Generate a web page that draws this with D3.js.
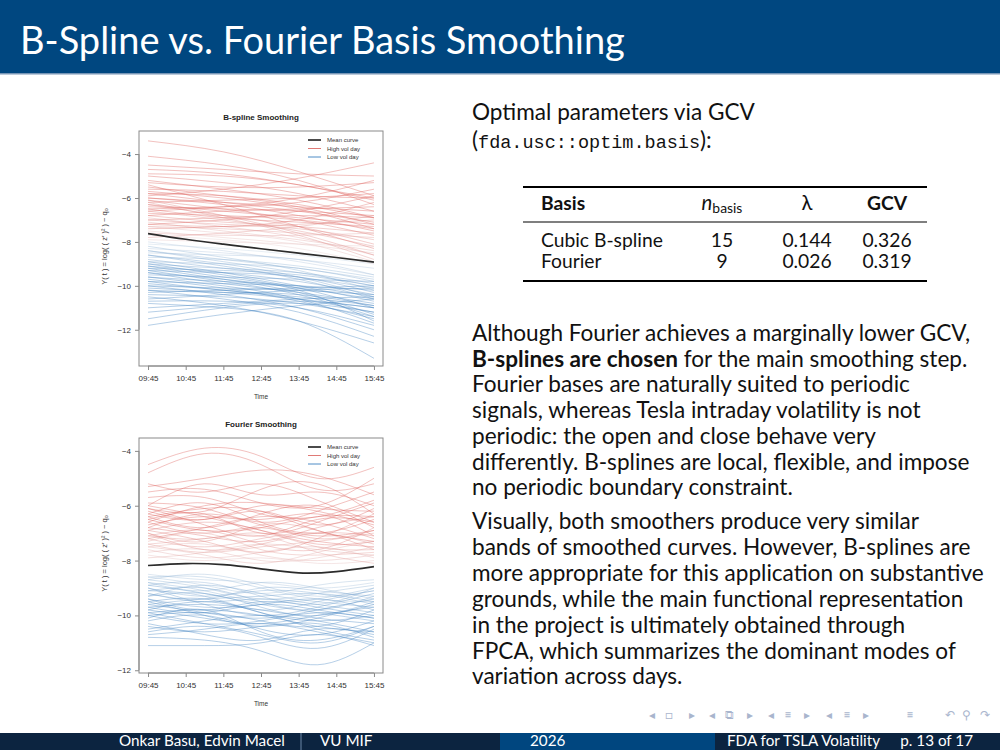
<!DOCTYPE html>
<html lang="en">
<head>
<meta charset="UTF-8">
<title>B-Spline vs. Fourier Basis Smoothing</title>
<script src="https://cdn.jsdelivr.net/npm/d3@7"></script>
<style>
  body { margin: 0; background: #fff; }
  svg text { font-family: Lato, "Open Sans", sans-serif; }
  .plot text { font-family: "Liberation Sans", Arial, sans-serif; }
</style>
</head>
<body>
<script>
// ---- data ----
let timeLabels = ["09:45", "10:45", "11:45", "12:45", "13:45", "14:45", "15:45"];
let tickMinutes = [585, 645, 705, 765, 825, 885, 945];
let yTicks = [-4, -6, -8, -10, -12];

// B-spline curves, values at 09:45, 11:45, 13:45, 15:45
let bsKnots = [585, 705, 825, 945];
let bsMean = [-7.62, -7.88, -8.10, -8.31, -8.51, -8.71, -8.92];
let bsHigh = [
  [-3.4,-3.9,-4.8,-5.9], [-4.1,-4.5,-5.2,-6.3], [-4.5,-4.7,-4.9,-5.0], [-4.9,-5.0,-5.4,-6.1],
  [-5.0,-5.3,-5.8,-6.6], [-5.2,-5.6,-6.1,-6.9], [-5.3,-5.5,-5.5,-5.3], [-5.5,-5.9,-6.4,-7.2],
  [-5.6,-5.7,-5.9,-6.0], [-5.8,-6.2,-6.6,-7.1], [-5.8,-5.9,-6.3,-6.9], [-5.9,-5.6,-5.1,-4.4],
  [-6.0,-6.3,-6.8,-7.5], [-6.0,-6.2,-6.4,-6.6], [-6.1,-6.5,-7.0,-7.7], [-6.2,-6.1,-6.0,-5.8],
  [-6.3,-6.6,-6.9,-7.2], [-6.3,-6.8,-7.3,-8.1], [-6.4,-6.5,-6.6,-6.8], [-6.5,-6.9,-7.1,-7.3],
  [-6.5,-6.4,-6.2,-5.6], [-6.6,-7.0,-7.5,-8.2], [-6.7,-6.8,-7.0,-7.4], [-6.8,-7.1,-7.3,-7.6],
  [-6.8,-6.6,-6.5,-6.4], [-6.9,-7.3,-7.8,-8.6], [-7.0,-7.2,-7.4,-7.9], [-7.0,-6.9,-6.8,-6.9],
  [-7.1,-7.5,-7.9,-8.4], [-7.2,-7.3,-7.2,-7.0], [-7.3,-7.6,-8.0,-8.9], [-7.3,-7.4,-7.6,-7.8],
  [-7.4,-7.3,-7.0,-6.2], [-7.5,-7.8,-8.1,-8.5], [-7.6,-7.7,-7.7,-7.6], [-7.7,-7.9,-8.3,-9.0],
  [-7.8,-7.6,-7.3,-6.8], [-7.9,-8.0,-8.1,-8.2], [-6.1,-6.8,-7.6,-8.6], [-5.4,-6.3,-7.3,-8.3],
  [-4.7,-4.9,-5.4,-6.0], [-6.6,-6.4,-6.0,-5.2], [-6.2,-6.9,-7.7,-8.8], [-7.2,-7.0,-6.6,-5.9],
  [-5.7,-6.0,-6.5,-7.4]
];
let bsLow = [
  [-8.0,-8.4,-8.9,-9.5], [-8.1,-8.3,-8.6,-9.0], [-8.2,-8.7,-9.3,-10.2], [-8.3,-8.5,-8.8,-9.2],
  [-8.4,-8.9,-9.4,-10.0], [-8.5,-8.6,-8.8,-9.5], [-8.6,-9.1,-9.7,-10.6], [-8.7,-8.8,-9.1,-9.6],
  [-8.8,-9.2,-9.6,-10.1], [-8.9,-9.0,-9.2,-9.8], [-9.0,-9.5,-10.1,-11.0], [-9.0,-9.2,-9.4,-9.9],
  [-9.1,-9.4,-9.8,-10.4], [-9.2,-9.3,-9.5,-10.0], [-9.3,-9.8,-10.4,-11.4], [-9.3,-9.4,-9.6,-10.3],
  [-9.4,-9.7,-10.1,-10.6], [-9.5,-9.6,-9.7,-9.8], [-9.6,-10.0,-10.6,-11.7], [-9.6,-9.8,-10.0,-10.5],
  [-9.7,-10.1,-10.7,-11.5], [-9.8,-9.9,-10.0,-10.2], [-9.9,-10.2,-10.6,-11.2], [-10.0,-10.4,-11.0,-12.0],
  [-10.0,-10.1,-10.2,-10.4], [-10.1,-10.3,-10.6,-11.0], [-10.2,-10.6,-11.2,-12.3], [-10.3,-10.2,-10.1,-10.0],
  [-10.4,-10.5,-10.8,-11.4], [-10.5,-10.9,-11.6,-12.6], [-10.6,-10.4,-10.2,-10.1], [-10.7,-10.7,-11.0,-11.8],
  [-10.8,-11.0,-11.6,-13.3], [-11.0,-10.8,-10.6,-10.5], [-11.2,-10.9,-10.7,-11.0], [-11.5,-11.0,-10.8,-11.2],
  [-11.8,-11.3,-10.9,-10.6], [-9.2,-9.7,-10.3,-11.3], [-8.6,-9.0,-9.6,-10.5], [-9.8,-10.2,-10.5,-10.9],
  [-8.9,-9.4,-10.0,-10.7], [-10.2,-10.3,-10.4,-10.9], [-9.4,-9.9,-10.3,-10.8], [-8.4,-8.8,-9.2,-9.7],
  [-9.1,-9.6,-10.2,-11.6]
];

// Fourier curves, values at 09:45, 11:15, 12:45, 14:15, 15:45
let fsKnots = [585, 675, 765, 855, 945];
let fsMean = [-8.18, -8.11, -8.15, -8.30, -8.45, -8.40, -8.22];
let fsHigh = [
  [-4.5,-3.9,-4.2,-5.0,-4.6], [-4.8,-4.1,-4.5,-5.4,-5.2], [-5.3,-5.0,-4.7,-4.9,-5.6], [-5.5,-5.4,-5.9,-6.0,-5.0],
  [-6.0,-5.2,-5.6,-5.5,-6.0], [-6.1,-6.2,-5.4,-5.2,-6.3], [-6.2,-6.5,-6.2,-6.7,-6.1], [-6.3,-5.9,-6.6,-7.0,-6.5],
  [-6.4,-6.8,-6.3,-6.0,-6.8], [-6.5,-6.3,-7.0,-6.6,-5.9], [-6.6,-7.0,-6.8,-7.2,-6.9], [-6.7,-6.4,-6.5,-6.3,-7.1],
  [-6.8,-7.1,-7.3,-6.8,-6.4], [-6.9,-6.6,-6.9,-7.4,-7.3], [-7.0,-7.3,-6.7,-6.9,-7.6], [-7.1,-6.9,-7.4,-7.6,-6.8],
  [-7.2,-7.5,-7.2,-7.0,-7.4], [-7.3,-7.0,-7.6,-7.8,-7.7], [-7.4,-7.7,-7.5,-7.3,-7.0], [-7.5,-7.4,-7.8,-8.0,-7.8],
  [-7.6,-7.9,-7.7,-7.5,-7.9], [-7.7,-7.6,-8.0,-7.9,-7.5], [-7.8,-8.0,-7.9,-8.1,-8.0], [-6.1,-6.7,-7.1,-6.5,-6.6],
  [-6.4,-6.1,-6.2,-6.9,-7.3], [-7.2,-6.8,-6.4,-6.6,-7.2], [-6.9,-7.3,-7.7,-7.2,-6.3], [-5.7,-5.7,-6.3,-6.4,-5.8],
  [-5.2,-5.5,-5.2,-5.8,-6.6], [-6.6,-6.0,-5.9,-6.2,-6.7], [-7.4,-7.2,-7.1,-7.7,-8.1], [-7.0,-7.6,-7.4,-7.0,-7.1],
  [-6.0,-6.4,-6.9,-7.3,-7.5], [-7.9,-7.7,-7.4,-7.6,-7.8], [-6.3,-6.5,-6.0,-6.1,-6.2], [-5.9,-6.1,-6.6,-6.2,-5.5],
  [-7.1,-7.2,-7.0,-7.5,-7.6], [-6.8,-6.3,-6.7,-7.1,-6.9], [-7.5,-7.8,-8.1,-7.7,-7.3], [-6.5,-6.9,-6.8,-6.4,-6.4]
];
let fsLow = [
  [-8.5,-8.7,-8.8,-9.0,-8.8], [-8.6,-8.9,-9.2,-8.9,-8.7], [-8.7,-8.5,-8.9,-9.3,-9.1], [-8.8,-9.1,-8.8,-9.0,-9.4],
  [-8.9,-8.8,-9.3,-9.6,-9.0], [-9.0,-9.3,-9.1,-9.2,-9.6], [-9.1,-9.0,-9.5,-9.8,-9.3], [-9.2,-9.5,-9.4,-9.6,-9.9],
  [-9.3,-9.2,-9.7,-10.0,-9.5], [-9.4,-9.7,-9.6,-9.4,-9.8], [-9.5,-9.4,-9.9,-10.2,-10.0], [-9.6,-9.9,-10.1,-9.8,-9.4],
  [-9.7,-9.6,-9.8,-10.1,-10.3], [-9.8,-10.1,-10.3,-10.0,-9.7], [-9.9,-9.8,-10.0,-10.4,-10.6], [-10.0,-10.3,-10.2,-9.9,-10.1],
  [-10.2,-10.0,-10.5,-10.7,-10.2], [-10.4,-10.6,-10.4,-10.3,-10.8], [-10.6,-10.4,-10.8,-11.2,-10.5], [-10.8,-10.9,-11.3,-11.8,-11.0],
  [-11.1,-11.1,-11.0,-10.7,-11.1], [-9.0,-9.6,-10.0,-9.7,-9.2], [-9.3,-8.9,-9.2,-9.5,-9.7], [-8.9,-9.2,-9.6,-9.9,-10.2],
  [-9.6,-9.4,-9.3,-9.2,-9.5], [-10.1,-9.8,-10.6,-10.9,-10.4], [-9.4,-9.8,-9.5,-9.7,-10.0], [-10.3,-10.7,-10.9,-10.5,-10.7],
  [-8.7,-9.0,-9.4,-9.2,-8.9], [-9.8,-9.5,-9.9,-10.5,-10.9], [-9.2,-9.4,-9.0,-9.1,-9.3], [-10.5,-10.2,-10.0,-10.2,-10.6],
  [-9.5,-10.0,-10.4,-10.1,-9.6], [-8.6,-8.6,-9.0,-9.4,-9.5], [-9.9,-10.3,-10.7,-11.0,-10.4], [-9.1,-9.3,-9.8,-9.5,-9.1],
  [-10.7,-10.5,-10.3,-10.6,-11.0], [-9.7,-9.9,-9.6,-9.8,-10.1], [-8.8,-9.1,-9.5,-9.4,-9.0], [-10.0,-9.9,-10.2,-10.4,-9.8]
];

let legendLabels = ["Mean curve", "High vol day", "Low vol day"];

let tableBasis = ["Cubic B-spline", "Fourier"];
let tableNBasis = ["15", "9"];
let tableLambda = ["0.144", "0.026"];
let tableGCV = ["0.326", "0.319"];

let para1 = [
  "Although Fourier achieves a marginally lower GCV,",
  "**B-splines are chosen** for the main smoothing step.",
  "Fourier bases are naturally suited to periodic",
  "signals, whereas Tesla intraday volatility is not",
  "periodic: the open and close behave very",
  "differently. B-splines are local, flexible, and impose",
  "no periodic boundary constraint."
];
let para2 = [
  "Visually, both smoothers produce very similar",
  "bands of smoothed curves. However, B-splines are",
  "more appropriate for this application on substantive",
  "grounds, while the main functional representation",
  "in the project is ultimately obtained through",
  "FPCA, which summarizes the dominant modes of",
  "variation across days."
];

// ---- slide frame ----
let W = 1000, H = 750;
let svg = d3.select("body").append("svg")
  .attr("width", W).attr("height", H);

svg.append("rect").attr("x", 0).attr("y", 0).attr("width", W).attr("height", 73)
  .attr("fill", "#004780");
svg.append("rect").attr("x", 0).attr("y", 73).attr("width", W).attr("height", 1.5)
  .attr("fill", "#7896b6");

// fit text to a measured width
function fitText(sel, target) {
  let w = sel.node().getComputedTextLength();
  let fs = parseFloat(sel.attr("font-size"));
  sel.attr("font-size", fs * target / w);
  return fs * target / w;
}

let title = svg.append("text")
  .text("B-Spline vs. Fourier Basis Smoothing")
  .attr("x", 20).attr("y", 54)
  .attr("font-size", 34).attr("fill", "#fff");
fitText(title, 605);

// ---- plot panels ----
let x = d3.scaleLinear().domain([570.6, 959.4]).range([139, 383]);

function panel(cfg) {
  let g = svg.append("g").attr("class", "plot");
  let y = d3.scaleLinear().domain(cfg.ylim).range([cfg.top, cfg.bottom]);
  let clipId = "clip" + cfg.top;
  g.append("clipPath").attr("id", clipId).append("rect")
    .attr("x", 139).attr("y", cfg.top).attr("width", 244).attr("height", cfg.bottom - cfg.top);

  let meanAvg = d3.mean(cfg.mean);
  let redScale = d3.interpolateRgb("#e6d4d4", "#dc5a55");
  let blueScale = d3.interpolateRgb("#d4dde6", "#3d80c0");

  let line = d3.line()
    .x((d, i) => x(cfg.knots[i]))
    .y(d => y(d))
    .curve(d3.curveNatural);

  let curves = g.append("g").attr("clip-path", "url(#" + clipId + ")");
  function drawSet(data, scale) {
    curves.selectAll(null).data(data).enter().append("path")
      .attr("d", line)
      .attr("fill", "none")
      .attr("stroke", d => scale(Math.min(Math.abs(d3.mean(d) - meanAvg) / 1.6, 1)))
      .attr("stroke-opacity", 0.42)
      .attr("stroke-width", 0.9);
  }
  drawSet(cfg.low, blueScale);
  drawSet(cfg.high, redScale);

  let meanLine = d3.line()
    .x((d, i) => x(tickMinutes[i]))
    .y(d => y(d))
    .curve(d3.curveNatural);
  curves.append("path")
    .attr("d", meanLine(cfg.mean))
    .attr("fill", "none")
    .attr("stroke", "#2b2b2b")
    .attr("stroke-width", 1.7);

  // box
  g.append("rect")
    .attr("x", 139).attr("y", cfg.top).attr("width", 244).attr("height", cfg.bottom - cfg.top)
    .attr("fill", "none").attr("stroke", "#8a8a8a").attr("stroke-width", 1);

  let xAxis = d3.axisBottom(x).tickValues(tickMinutes)
    .tickFormat((d, i) => timeLabels[i]).tickSize(4).tickPadding(5);
  let gx = g.append("g").attr("transform", "translate(0," + cfg.bottom + ")").call(xAxis);
  gx.select(".domain").attr("d", "M" + x(585) + ",0H" + x(945)).attr("stroke", "#8a8a8a");
  gx.selectAll(".tick line").attr("stroke", "#8a8a8a");
  gx.selectAll(".tick text").attr("font-size", 8).attr("fill", "#333")
    .attr("font-family", "Liberation Sans, Arial, sans-serif");

  let yAxis = d3.axisLeft(y).tickValues(yTicks).tickSize(4).tickPadding(4);
  let gy = g.append("g").attr("transform", "translate(139,0)").call(yAxis);
  gy.select(".domain").attr("d", "M0," + y(-4) + "V" + y(-12)).attr("stroke", "#8a8a8a");
  gy.selectAll(".tick line").attr("stroke", "#8a8a8a");
  gy.selectAll(".tick text").attr("font-size", 8).attr("fill", "#333")
    .attr("font-family", "Liberation Sans, Arial, sans-serif");

  g.append("text").text(cfg.title)
    .attr("x", 261).attr("y", cfg.top - 11)
    .attr("text-anchor", "middle").attr("font-size", 8).attr("font-weight", "bold").attr("fill", "#222");

  g.append("text").text("Time")
    .attr("x", 261).attr("y", cfg.bottom + 33)
    .attr("text-anchor", "middle").attr("font-size", 6.5).attr("fill", "#333");

  let cy = (cfg.top + cfg.bottom) / 2 - 2;
  g.append("text").text("Y( t ) = log( ( z′ )² ) − q₀")
    .attr("transform", "translate(107," + cy + ") rotate(-90)")
    .attr("font-family", "DejaVu Sans, sans-serif")
    .attr("text-anchor", "middle").attr("font-size", 7.5).attr("fill", "#333");

  // legend
  let legColors = ["#2b2b2b", "#e07a76", "#4f8cc6"];
  let legW = [1.7, 1, 1];
  legendLabels.forEach((lab, i) => {
    let ly = cfg.top + 9 + i * 8.5;
    g.append("line").attr("x1", 308).attr("x2", 321).attr("y1", ly).attr("y2", ly)
      .attr("stroke", legColors[i]).attr("stroke-width", legW[i]);
    g.append("text").text(lab).attr("x", 327).attr("y", ly + 2)
      .attr("font-size", 6).attr("fill", "#333");
  });
}

panel({ title: "B-spline Smoothing", top: 131, bottom: 366, ylim: [-2.95, -13.65],
        knots: bsKnots, high: bsHigh, low: bsLow, mean: bsMean });
panel({ title: "Fourier Smoothing", top: 438, bottom: 673, ylim: [-3.53, -12.1],
        knots: fsKnots, high: fsHigh, low: fsLow, mean: fsMean });

// ---- right column text ----
let textColor = "#111";
let intro = svg.append("text").text("Optimal parameters via GCV")
  .attr("x", 472).attr("y", 120).attr("font-size", 20).attr("fill", textColor);
let bodySize = fitText(intro, 283);

let intro2 = svg.append("text").attr("x", 472).attr("y", 148)
  .attr("font-size", bodySize).attr("fill", textColor);
intro2.append("tspan").text("(");
intro2.append("tspan").text("fda.usc::optim.basis")
  .attr("font-family", "Liberation Mono, DejaVu Sans Mono, monospace").attr("font-size", 18.5);
intro2.append("tspan").text("):");

// table
let tx = [541, 722, 807, 887];
svg.append("line").attr("x1", 523).attr("x2", 927).attr("y1", 187).attr("y2", 187)
  .attr("stroke", "#000").attr("stroke-width", 2);
svg.append("line").attr("x1", 523).attr("x2", 927).attr("y1", 222).attr("y2", 222)
  .attr("stroke", "#000").attr("stroke-width", 1.1);
svg.append("line").attr("x1", 523).attr("x2", 927).attr("y1", 281).attr("y2", 281)
  .attr("stroke", "#000").attr("stroke-width", 2);

let probe = svg.append("text").text(tableBasis[0]).attr("x", tx[0]).attr("y", 247)
  .attr("font-size", 17).attr("fill", textColor);
let tableSize = fitText(probe, 122);

svg.append("text").text("Basis").attr("x", tx[0]).attr("y", 210)
  .attr("font-size", tableSize).attr("font-weight", "bold").attr("fill", textColor);
let nb = svg.append("text").attr("x", tx[1]).attr("y", 210).attr("text-anchor", "middle")
  .attr("font-family", "Liberation Serif, DejaVu Serif, serif").attr("fill", textColor);
nb.append("tspan").text("n").attr("font-style", "italic").attr("font-size", tableSize + 1);
nb.append("tspan").text("basis").attr("font-size", tableSize * 0.72).attr("dy", 3);
svg.append("text").text("λ").attr("x", tx[2]).attr("y", 210).attr("text-anchor", "middle")
  .attr("font-family", "Liberation Serif, DejaVu Serif, serif").attr("font-size", tableSize + 1).attr("fill", textColor);
svg.append("text").text("GCV").attr("x", tx[3]).attr("y", 210).attr("text-anchor", "middle")
  .attr("font-size", tableSize).attr("font-weight", "bold").attr("fill", textColor);

tableBasis.forEach((b, i) => {
  let ry = 247 + i * 21;
  if (i > 0) svg.append("text").text(b).attr("x", tx[0]).attr("y", ry)
    .attr("font-size", tableSize).attr("fill", textColor);
  [tableNBasis[i], tableLambda[i], tableGCV[i]].forEach((v, j) => {
    svg.append("text").text(v).attr("x", tx[j + 1]).attr("y", ry).attr("text-anchor", "middle")
      .attr("font-size", tableSize).attr("fill", textColor);
  });
});

function paragraph(lines, y0, step) {
  lines.forEach((ln, i) => {
    let t = svg.append("text").attr("x", 472).attr("y", y0 + i * step)
      .attr("font-size", bodySize).attr("fill", textColor);
    ln.split("**").forEach((part, k) => {
      if (part === "") return;
      let s = t.append("tspan").text(part);
      if (k % 2 === 1) s.attr("font-weight", "bold");
    });
  });
}
paragraph(para1, 341, 25.7);
paragraph(para2, 529, 25.9);

// ---- navigation symbols ----
let navColor = "#a9b5cd";
let navItems = [
  ["◂", 652], ["□", 669], ["▸", 692], ["◂", 712], ["⧉", 729], ["▸", 750],
  ["◂", 771], ["≡", 788], ["▸", 807], ["◂", 829], ["≡", 847], ["▸", 866],
  ["≡", 910], ["↶", 950], ["⚲", 966], ["↷", 985]
];
navItems.forEach(([s, nx]) => {
  svg.append("text").text(s).attr("x", nx).attr("y", 719).attr("text-anchor", "middle")
    .attr("font-family", "DejaVu Sans, sans-serif").attr("font-size", 12).attr("fill", navColor);
});

// ---- footer ----
svg.append("rect").attr("x", 0).attr("y", 733).attr("width", 500).attr("height", 17).attr("fill", "#0c2440");
svg.append("rect").attr("x", 500).attr("y", 733).attr("width", 215).attr("height", 17).attr("fill", "#00467f");
svg.append("rect").attr("x", 715).attr("y", 733).attr("width", 285).attr("height", 17).attr("fill", "#0c2440");
svg.append("line").attr("x1", 301).attr("x2", 301).attr("y1", 733).attr("y2", 750)
  .attr("stroke", "#6b86a6").attr("stroke-width", 1);

let authorText = svg.append("text").text("Onkar Basu, Edvin Macel").attr("x", 119).attr("y", 746)
  .attr("font-size", 12.5).attr("fill", "#fff");
let footSize = fitText(authorText, 166);

let foot = [
  ["VU MIF", 320, "start"], ["2026", 530, "start"],
  ["FDA for TSLA Volatility", 727, "start"], ["p. 13 of 17", 973, "end"]
];
foot.forEach(([s, fx, anchor]) => {
  svg.append("text").text(s).attr("x", fx).attr("y", 746).attr("text-anchor", anchor)
    .attr("font-size", footSize).attr("fill", "#fff");
});
</script>
</body>
</html>
